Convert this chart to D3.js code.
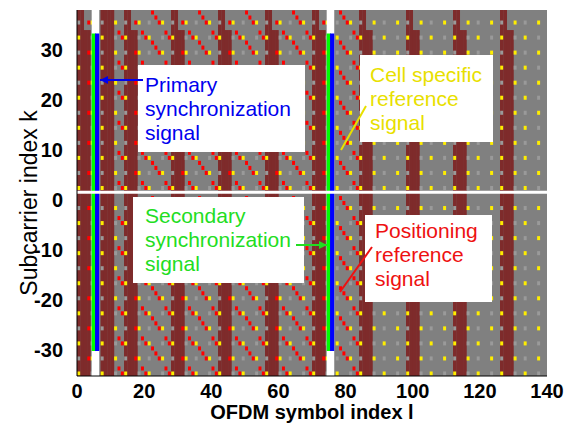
<!DOCTYPE html>
<html><head><meta charset="utf-8">
<script src="https://cdn.jsdelivr.net/npm/d3@7"></script>
<style>html,body{margin:0;padding:0;background:#fff;} svg{display:block;font-family:"Liberation Sans",Arial,sans-serif;}</style>
</head><body><svg id="chart" width="568" height="432"></svg>
<script>
// ---------------- data ----------------
const symbolCount = 140;               // OFDM symbols in one radio frame
const symbolsPerSubframe = 14;
const subcarrierRange = [-36, 36];     // subcarrier index k (0 = DC)
const xTickValues = [0, 20, 40, 60, 80, 100, 120, 140];
const yTickValues = [-30, -20, -10, 0, 10, 20, 30];
const yAxisLimits = [-35.3, 37.9];
const controlSymbolsFull = [0, 1];     // control region, every subcarrier
const controlSymbolsCore = [2, 3];     // extra control symbols, k <= coreMaxK
const coreMaxK = 32;
const pbchSubframes = [0];
const pbchSymbols = [7, 8, 9, 10];
const crsSymbols = [0, 4, 7, 11];
const crsPort0Shift = [0, 3, 0, 3];    // subcarrier offset (mod 6) of port 0
const crsPort1Shift = [3, 0, 3, 0];
const prsSubframes = [0, 1, 2, 3, 4, 5];
const prsSymbols = [3, 5, 6, 8, 9, 10, 12, 13];
const prsShift = [3, 1, 0, 5, 4, 3, 1, 0];
const syncSubframes = [0, 5];
const sssSymbol = 5, pssSymbol = 6;
const syncMaxK = 31;

// ---------------- layout ----------------
const plot = {left: 77, right: 547, top: 10, bottom: 376};
const colors = {bg: "#808080", ctrl: "#7e2b2b", crs: "#ffee00", crsOther: "#9a9a9a",
  prs: "#ff0000", sss: "#00ff00", pss: "#0000ff", white: "#ffffff"};

const svg = d3.select("#chart");
const x = d3.scaleLinear().domain([0, symbolCount]).range([plot.left, plot.right]);
const kList = d3.range(subcarrierRange[1], subcarrierRange[0] - 1, -1);
const row = d3.scaleBand().domain(kList).range([plot.top, plot.bottom]);
const yAx = d3.scaleLinear().domain(yAxisLimits).range([plot.bottom, plot.top]);
const rh = row.bandwidth();
const cw = x(1) - x(0);
const phys = k => k > 0 ? k + 35 : k + 36;   // physical subcarrier index (no DC)
const dataK = kList.filter(k => k !== 0);
const nSub = symbolCount / symbolsPerSubframe;

// background
svg.append("rect").attr("x", x(0)).attr("y", plot.top).attr("width", x(symbolCount) - x(0))
  .attr("height", plot.bottom - plot.top).attr("fill", colors.bg);

// dark red regions (control + PBCH)
const ctrlCells = [];
for (let sf = 0; sf < nSub; sf++) {
  const base = sf * symbolsPerSubframe;
  controlSymbolsFull.forEach(s => ctrlCells.push({l: base + s, k0: subcarrierRange[1], k1: subcarrierRange[0]}));
  controlSymbolsCore.forEach(s => ctrlCells.push({l: base + s, k0: coreMaxK, k1: subcarrierRange[0]}));
  if (pbchSubframes.includes(sf)) pbchSymbols.forEach(s => ctrlCells.push({l: base + s, k0: subcarrierRange[1], k1: subcarrierRange[0]}));
}
svg.append("g").selectAll("rect").data(ctrlCells).join("rect")
  .attr("x", d => x(d.l)).attr("width", cw + 0.3)
  .attr("y", d => row(d.k0)).attr("height", d => row(d.k1) + rh - row(d.k0))
  .attr("fill", colors.ctrl);

// resource element markers
const dots = [];
for (let sf = 0; sf < nSub; sf++) {
  const base = sf * symbolsPerSubframe;
  crsSymbols.forEach((s, i) => dataK.forEach(k => {
    if (phys(k) % 6 === crsPort1Shift[i]) dots.push({l: base + s, k, c: colors.crsOther});
  }));
  crsSymbols.forEach((s, i) => dataK.forEach(k => {
    if (phys(k) % 6 === crsPort0Shift[i]) dots.push({l: base + s, k, c: colors.crs});
  }));
  if (prsSubframes.includes(sf)) prsSymbols.forEach((s, i) => {
    if (pbchSubframes.includes(sf) && pbchSymbols.includes(s)) return;
    if (syncSubframes.includes(sf) && (s === sssSymbol || s === pssSymbol)) return;
    dataK.forEach(k => { if (phys(k) % 6 === prsShift[i]) dots.push({l: base + s, k, c: colors.prs}); });
  });
}
svg.append("g").selectAll("rect").data(dots).join("rect")
  .attr("x", d => x(d.l) + 0.2).attr("width", cw - 0.4)
  .attr("y", d => row(d.k) + 0.5).attr("height", rh - 1)
  .attr("fill", d => d.c);

// synchronization signals (reserved = white, SSS = green, PSS = blue)
const syncLines = [];
syncSubframes.forEach(sf => {
  const base = sf * symbolsPerSubframe;
  syncLines.push({l: base + sssSymbol, y0: plot.top, y1: plot.bottom, c: colors.white});
  syncLines.push({l: base + pssSymbol, y0: plot.top, y1: plot.bottom, c: colors.white});
  syncLines.push({l: base + sssSymbol, y0: row(syncMaxK) - 1.6, y1: row(-syncMaxK) + rh, c: colors.sss});
  syncLines.push({l: base + pssSymbol, y0: row(syncMaxK) - 1.6, y1: row(-syncMaxK) + rh, c: colors.pss});
});
svg.append("g").selectAll("line").data(syncLines).join("line")
  .attr("x1", d => x(d.l)).attr("x2", d => x(d.l))
  .attr("y1", d => d.y0).attr("y2", d => d.y1)
  .attr("stroke", d => d.c).attr("stroke-width", 4.2);

// DC subcarrier
svg.append("line").attr("x1", x(0)).attr("x2", x(symbolCount))
  .attr("y1", row(0) + rh * 0.35).attr("y2", row(0) + rh * 0.35)
  .attr("stroke", colors.white).attr("stroke-width", 2.8);

// axes
const axisG = svg.append("g");
axisG.append("line").attr("x1", plot.left).attr("x2", plot.right).attr("y1", plot.bottom).attr("y2", plot.bottom).attr("stroke", "#000").attr("stroke-width", 1);
axisG.append("line").attr("x1", plot.left).attr("x2", plot.left).attr("y1", plot.top).attr("y2", plot.bottom).attr("stroke", "#000").attr("stroke-width", 1);
axisG.selectAll("text.xt").data(xTickValues).join("text").attr("class", "xt")
  .attr("x", d => x(d)).attr("y", plot.bottom + 22).attr("text-anchor", "middle")
  .attr("font-size", 20).attr("font-weight", "bold").text(d => d);
axisG.selectAll("text.yt").data(yTickValues).join("text").attr("class", "yt")
  .attr("x", plot.left - 14).attr("y", d => yAx(d) + 7).attr("text-anchor", "end")
  .attr("font-size", 20).attr("font-weight", "bold").text(d => d);
svg.append("text").attr("x", (plot.left + plot.right) / 2).attr("y", 419)
  .attr("text-anchor", "middle").attr("font-size", 20).attr("font-weight", "bold")
  .text("OFDM symbol index l");
svg.append("text").attr("transform", "translate(37,203) rotate(-90)")
  .attr("text-anchor", "middle").attr("font-size", 23)
  .text("Subcarrier index k");

// annotations
const notes = [
  {box: [138, 65, 305, 152], tx: 145, lines: ["Primary", "synchronization", "signal"], base: 92, c: "#0000ee",
   arrow: {x1: 143, y1: 80, x2: 100, y2: 80, head: true}},
  {box: [133, 197, 304, 283], tx: 145, lines: ["Secondary", "synchronization", "signal"], base: 223, c: "#22dd22",
   arrow: {x1: 296, y1: 245, x2: 327, y2: 245, head: true}},
  {box: [360, 55, 493, 142], tx: 370, lines: ["Cell specific", "reference", "signal"], base: 82, c: "#e8e000",
   arrow: {x1: 366, y1: 106, x2: 341, y2: 150, head: false}},
  {box: [365, 215, 492, 302], tx: 375, lines: ["Positioning", "reference", "signal"], base: 238, c: "#ee1111",
   arrow: {x1: 372, y1: 247, x2: 340, y2: 292, head: false}}
];
const ng = svg.append("g");
notes.forEach(n => {
  ng.append("rect").attr("x", n.box[0]).attr("y", n.box[1]).attr("width", n.box[2] - n.box[0])
    .attr("height", n.box[3] - n.box[1]).attr("fill", "#fff");
  n.lines.forEach((t, i) => ng.append("text").attr("x", n.tx).attr("y", n.base + i * 24)
    .attr("font-size", 21).attr("fill", n.c).text(t));
  const a = n.arrow;
  ng.append("line").attr("x1", a.x1).attr("y1", a.y1).attr("x2", a.x2).attr("y2", a.y2)
    .attr("stroke", n.c).attr("stroke-width", 2);
  if (a.head) {
    const ang = Math.atan2(a.y2 - a.y1, a.x2 - a.x1), L = 8, Wd = 4;
    const bx = a.x2 - L * Math.cos(ang), by = a.y2 - L * Math.sin(ang);
    const px = -Math.sin(ang) * Wd, py = Math.cos(ang) * Wd;
    ng.append("path").attr("d", `M${a.x2},${a.y2}L${bx + px},${by + py}L${bx - px},${by - py}Z`).attr("fill", n.c);
  }
});
</script></body></html>
